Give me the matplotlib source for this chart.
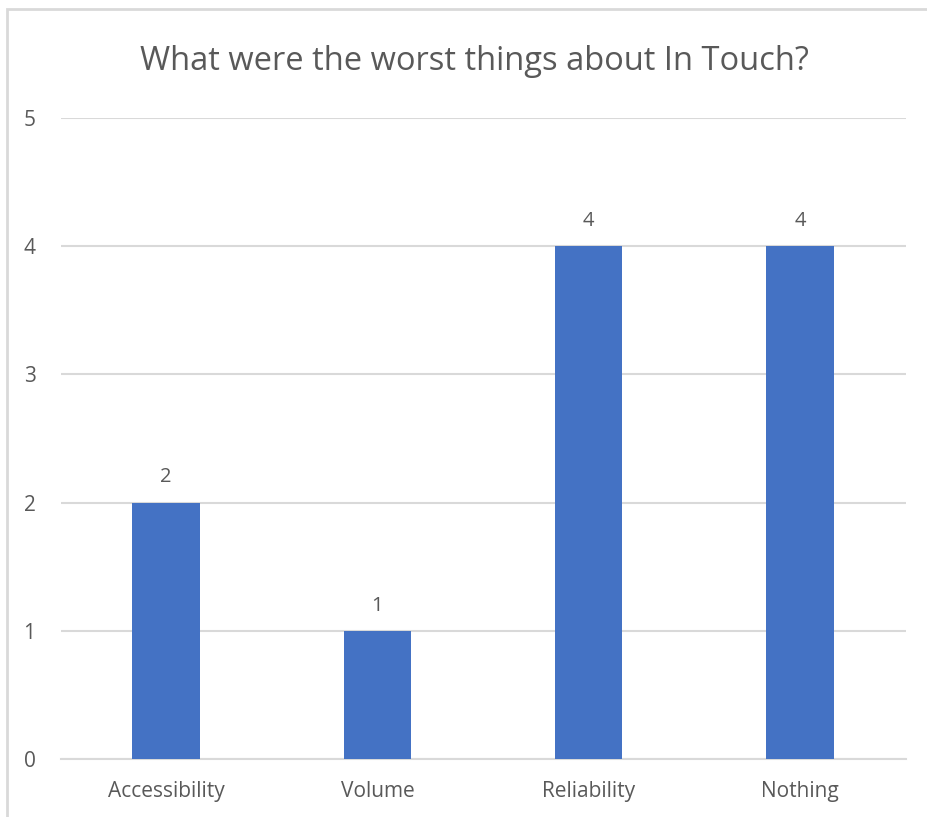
import matplotlib.pyplot as plt
from matplotlib.patches import Rectangle

# data
categories = ["Accessibility", "Volume", "Reliability", "Nothing"]
counts = [2, 1, 4, 4]
yticks = [0, 1, 2, 3, 4, 5]

text_grey = "#595959"
grid_grey = "#D9D9D9"
bar_blue = "#4472C4"

plt.rcParams["font.family"] = ["Open Sans", "DejaVu Sans"]

fig = plt.figure(figsize=(9.28, 8.17), dpi=100)
ax = fig.add_axes([0.0652, 0.071, 0.9106, 0.7846])

# chart-area border (runs off the right and bottom edges)
fig.patches.append(Rectangle((7 / 928, -0.05), 1.0, 1 - 9 / 817 + 0.05,
                             transform=fig.transFigure, fill=False,
                             edgecolor=grid_grey, linewidth=2.0))

x = list(range(len(categories)))
bars = ax.bar(x, counts, width=0.32, color=bar_blue, zorder=3)

for b, v in zip(bars, counts):
    ax.annotate(str(v), (b.get_x() + b.get_width() / 2, v),
                xytext=(0, 11), textcoords="offset points",
                ha="center", va="bottom", fontsize=14.5, color=text_grey)

ax.set_xlim(-0.5, len(categories) - 0.5)
ax.set_ylim(0, 5)
ax.set_yticks(yticks)
ax.set_xticks(x)
ax.set_xticklabels(categories)
ax.yaxis.grid(True, color=grid_grey, linewidth=1.5, zorder=0)
ax.set_axisbelow(True)

for s in ["top", "right", "left"]:
    ax.spines[s].set_visible(False)
ax.spines["bottom"].set_color(grid_grey)
ax.spines["bottom"].set_linewidth(1.5)

ax.tick_params(axis="both", length=0, colors=text_grey, labelsize=15)
ax.tick_params(axis="y", pad=18)
ax.tick_params(axis="x", pad=16)

fig.text(474 / 928, 1 - 61 / 817, "What were the worst things about In Touch?",
         ha="center", va="center", fontsize=23.5, color=text_grey)

fig.savefig("out.png", dpi=100)
